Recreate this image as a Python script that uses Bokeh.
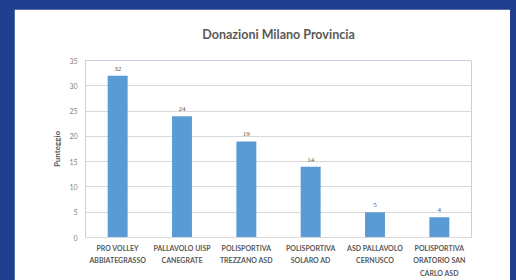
from bokeh.plotting import figure
from bokeh.models import Range1d, ColumnDataSource
from bokeh.embed import file_html
from bokeh.resources import INLINE

categories = ["PRO VOLLEY\nABBIATEGRASSO", "PALLAVOLO UISP\nCANEGRATE", "POLISPORTIVA\nTREZZANO ASD",
              "POLISPORTIVA\nSOLARO AD", "ASD PALLAVOLO\nCERNUSCO", "POLISPORTIVA\nORATORIO SAN\nCARLO ASD"]
values = [32, 24, 19, 14, 5, 4]
y_ticks = [0, 5, 10, 15, 20, 25, 30, 35]

FONT = "Lato"
GREY = "#595959"
LGREY = "#7f7f7f"
BLUE_BG = "#203f8f"

p = figure(width=496, height=271, x_range=categories, y_range=Range1d(0, 35),
           output_backend="svg", toolbar_location=None,
           min_border_left=71, min_border_right=39, min_border_top=51, min_border_bottom=43)
p.margin = (9, 0, 0, 14)
p.background_fill_color = "white"
p.border_fill_color = "white"
p.outline_line_color = None
p.x_range.range_padding = 0

src = ColumnDataSource(dict(x=categories, top=values, lab=[str(v) for v in values]))
p.vbar(x="x", top="top", width=0.31, source=src, color="#5b9bd5", line_color=None)
p.text(x="x", y="top", text="lab", source=src, text_align="center", text_baseline="bottom",
       y_offset=-5, text_font_size="7px", text_color=GREY, text_font=FONT)

p.yaxis.ticker = y_ticks
p.yaxis.axis_line_color = None
p.yaxis.major_tick_line_color = None
p.yaxis.minor_tick_line_color = None
p.yaxis.major_tick_out = 0
p.yaxis.major_tick_in = 0
p.yaxis.minor_tick_out = 0
p.yaxis.major_label_text_font_size = "7px"
p.yaxis.major_label_text_color = LGREY
p.yaxis.major_label_text_font = FONT
p.yaxis.major_label_standoff = 8
p.yaxis.axis_label = "Punteggio"
p.yaxis.axis_label_text_font_size = "8px"
p.yaxis.axis_label_text_font_style = "bold"
p.yaxis.axis_label_text_color = GREY
p.yaxis.axis_label_text_font = FONT
p.yaxis.axis_label_standoff = 4

p.xaxis.axis_line_color = "#d9d9d9"
p.xaxis.major_tick_line_color = None
p.xaxis.minor_tick_line_color = None
p.xaxis.major_tick_out = 0
p.xaxis.major_tick_in = 0
p.xaxis.minor_tick_out = 0
p.xaxis.major_label_text_font_size = "7px"
p.xaxis.major_label_text_color = GREY
p.xaxis.major_label_text_font = FONT
p.xaxis.major_label_text_font_style = "bold"
p.xaxis.major_label_text_line_height = 1.6
p.xaxis.major_label_standoff = 6

p.xgrid.grid_line_color = None
p.ygrid.grid_line_color = "#d9d9d9"
p.ygrid.ticker = y_ticks

p.title.text = "Donazioni Milano Provincia"
p.title.align = "center"
p.title.vertical_align = "top"
p.title.text_font = FONT
p.title.text_font_size = "12.5px"
p.title.text_font_style = "bold"
p.title.text_color = GREY
p.title.standoff = 33

html = file_html(p, INLINE)
html = html.replace("</head>", "<style>html, body { background: %s !important; }</style></head>" % BLUE_BG, 1)
open("out.html", "w").write(html)
